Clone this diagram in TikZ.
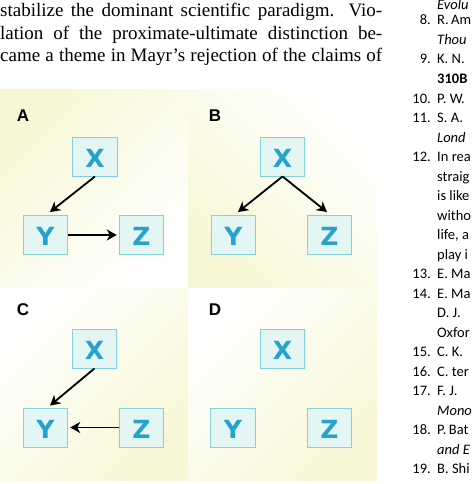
\documentclass[tikz,border=0pt]{standalone}
\usepackage{fontspec}
\setmainfont{Liberation Serif}
\newfontfamily\refsans{Carlito}
\newfontfamily\boxsans{DejaVu Sans}
\newfontfamily\labsans{Liberation Sans}
\usetikzlibrary{arrows.meta}
\definecolor{cream}{RGB}{247,247,214}
\definecolor{boxfill}{RGB}{228,246,244}
\definecolor{boxline}{RGB}{130,210,220}
\definecolor{letter}{RGB}{38,163,205}
\tikzset{
  vbox/.style={draw=boxline, fill=boxfill, line width=0.9pt, minimum width=44.5pt,
    minimum height=39pt, inner sep=0pt, text height=21pt, text depth=0pt,
    font=\boxsans\bfseries\fontsize{25}{25}\selectfont, text=letter},
  plabel/.style={inner sep=0pt, font=\labsans\bfseries\fontsize{17}{17}\selectfont},
  arr/.style={-{Stealth[length=10pt,width=11pt,inset=3pt]}, line width=1.8pt, black},
  body/.style={inner sep=0pt, anchor=base west, font=\fontsize{19}{22}\selectfont},
  refnum/.style={inner sep=0pt, anchor=base east, font=\refsans\fontsize{14.5}{14.5}\selectfont},
  reftxt/.style={inner sep=0pt, anchor=base west, font=\refsans\fontsize{14.5}{14.5}\selectfont},
}
\begin{document}
\begin{tikzpicture}[x=1pt,y=-1pt]
\useasboundingbox (0,0) rectangle (474,484);
\fill[white] (0,0) rectangle (474,484);

% body text
\node[body] (l1) at (0,17) {\makebox[382pt][s]{stabilize the dominant scientific paradigm. Vio-}};
\node[body] (l2) at (0,39.5) {\makebox[382pt][s]{lation of the proximate-ultimate distinction be-}};
\node[body] (l3) at (0,62) {\makebox[382pt][s]{came a theme in Mayr’s rejection of the claims of}};

% panel backgrounds
\shade[top color=cream, bottom color=white, shading angle=45] (0,90) rectangle (188,288);
\shade[top color=white, bottom color=cream, shading angle=-45] (188,90) rectangle (377,288);
\shade[top color=white, bottom color=cream, shading angle=45] (0,288) rectangle (188,480);
\shade[top color=white, bottom color=cream, shading angle=45] (188,288) rectangle (377,480);

% panel labels
\node[plabel] (labA) at (23,116) {A};
\node[plabel] (labB) at (215,116) {B};
\node[plabel] (labC) at (23,310) {C};
\node[plabel] (labD) at (215,310) {D};

% panel A
\node[vbox] (aX) at (95,156.5) {X};
\node[vbox] (aY) at (45.5,235) {Y};
\node[vbox] (aZ) at (141.5,235) {Z};
\draw[arr] (aX.south) -- ([xshift=4.5pt,yshift=3pt]aY.north);
\draw[arr] (aY.east) -- ([xshift=-2pt]aZ.west);

% panel B
\node[vbox] (bX) at (282.5,156.5) {X};
\node[vbox] (bY) at (233.5,235) {Y};
\node[vbox] (bZ) at (329.5,235) {Z};
\draw[arr] (bX.south) -- ([xshift=4.5pt,yshift=3pt]bY.north);
\draw[arr] (bX.south) -- ([xshift=-2.5pt,yshift=3pt]bZ.north);

% panel C
\node[vbox] (cX) at (94.5,348.5) {X};
\node[vbox] (cY) at (45.5,427.5) {Y};
\node[vbox] (cZ) at (141.5,427.5) {Z};
\draw[arr] (cX.south) -- ([xshift=4.5pt,yshift=2pt]cY.north);
\draw[arr] (cZ.west) -- ([xshift=2pt]cY.east);

% panel D
\node[vbox] (dX) at (282.5,348.5) {X};
\node[vbox] (dY) at (233,427.5) {Y};
\node[vbox] (dZ) at (329.5,427.5) {Z};

% reference column
\node[reftxt] (r0) at (437,9.5) {\itshape Evolu};
\node[refnum] (n8) at (431,25) {8.};
\node[reftxt] (r1) at (437,25) {R.\,Am};
\node[reftxt] (r2) at (437,44.5) {\itshape Thou};
\node[refnum] (n9) at (431,64) {9.};
\node[reftxt] (r3) at (437,64) {K. N.};
\node[reftxt] (r4) at (437,83.5) {\bfseries 310B};
\node[refnum] (n10) at (431,103) {10.};
\node[reftxt] (r5) at (437,103) {P. W.};
\node[refnum] (n11) at (431,122.5) {11.};
\node[reftxt] (r6) at (437,122.5) {S. A.};
\node[reftxt] (r7) at (437,142) {\itshape Lond};
\node[refnum] (n12) at (431,161.5) {12.};
\node[reftxt] (r8) at (437,161.5) {In rea};
\node[reftxt] (r9) at (437,181) {straig};
\node[reftxt] (r10) at (437,200.5) {is like};
\node[reftxt] (r11) at (437,220) {witho};
\node[reftxt] (r12) at (437,239.5) {life, a};
\node[reftxt] (r13) at (437,259) {play i};
\node[refnum] (n13) at (431,278.5) {13.};
\node[reftxt] (r14) at (437,278.5) {E. Ma};
\node[refnum] (n14) at (431,298) {14.};
\node[reftxt] (r15) at (437,298) {E. Ma};
\node[reftxt] (r16) at (437,317.5) {D. J.};
\node[reftxt] (r17) at (437,337) {Oxfor};
\node[refnum] (n15) at (431,356.5) {15.};
\node[reftxt] (r18) at (437,356.5) {C. K.};
\node[refnum] (n16) at (431,376) {16.};
\node[reftxt] (r19) at (437,376) {C. ter};
\node[refnum] (n17) at (431,395.5) {17.};
\node[reftxt] (r20) at (437,395.5) {F. J.};
\node[reftxt] (r21) at (437,415) {\itshape Mono};
\node[refnum] (n18) at (431,434.5) {18.};
\node[reftxt] (r22) at (437,434.5) {P.\,Bat};
\node[reftxt] (r23) at (437,454) {\itshape and E};
\node[refnum] (n19) at (431,473.5) {19.};
\node[reftxt] (r24) at (437,473.5) {B. Shi};
\end{tikzpicture}
\end{document}
